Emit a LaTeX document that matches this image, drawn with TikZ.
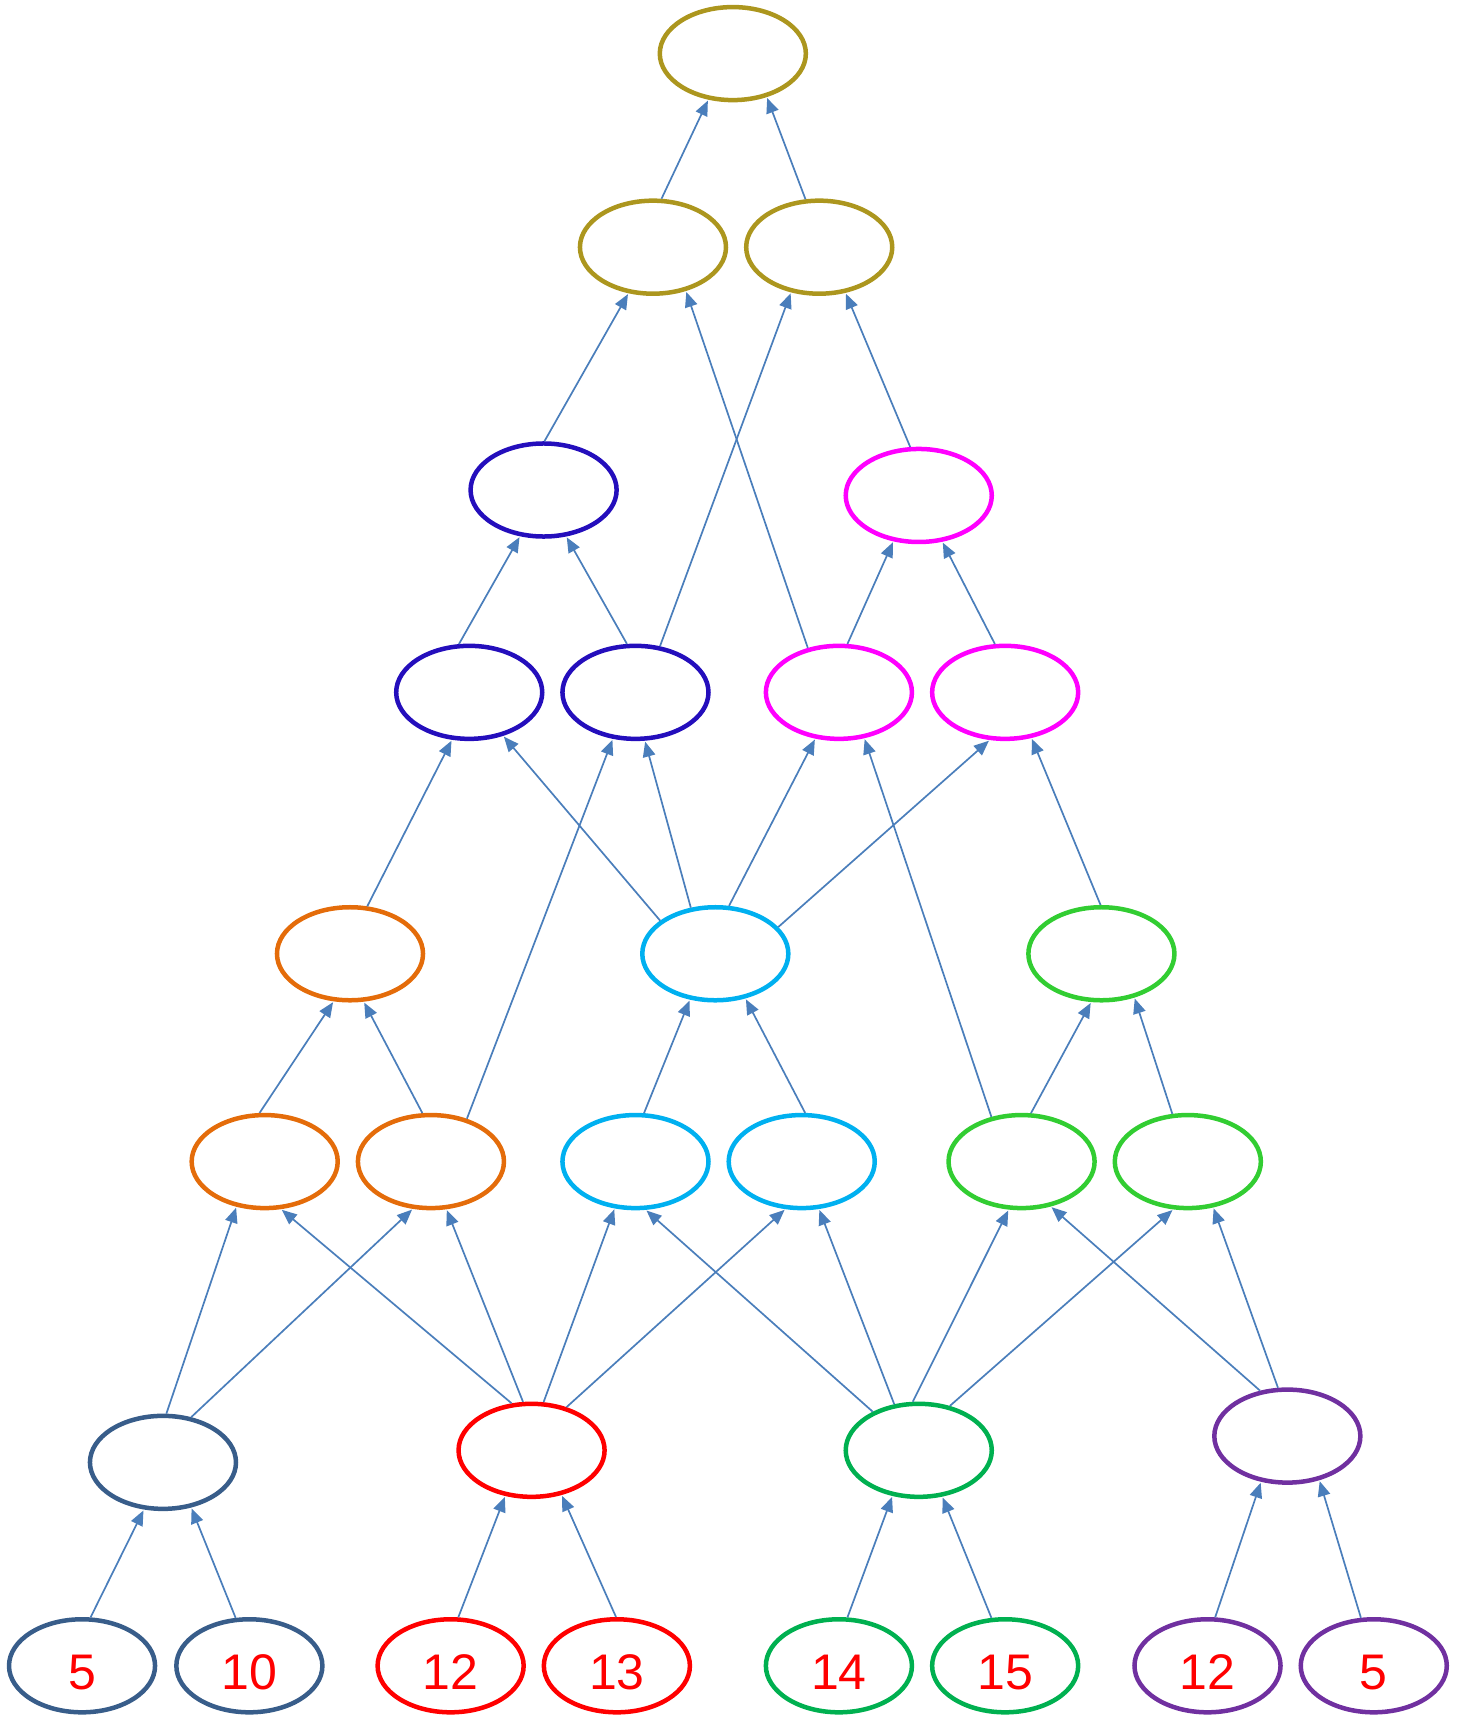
\documentclass[tikz,border=0pt]{standalone}
\usepackage{fontspec}
\newfontfamily\numfont{Liberation Sans}
\usetikzlibrary{shapes.geometric,arrows.meta}
\definecolor{cgold}{RGB}{172,150,30}
\definecolor{cind}{RGB}{36,14,188}
\definecolor{cmag}{RGB}{255,0,255}
\definecolor{corange}{RGB}{228,108,10}
\definecolor{ccyan}{RGB}{0,176,240}
\definecolor{clime}{RGB}{50,205,50}
\definecolor{cnavy}{RGB}{56,93,138}
\definecolor{cred}{RGB}{255,0,0}
\definecolor{cdkgreen}{RGB}{0,176,80}
\definecolor{cpurple}{RGB}{112,48,160}
\definecolor{carrow}{RGB}{74,126,187}
\tikzset{
  nd/.style={ellipse,draw=#1,line width=4.5pt,minimum width=146pt,minimum height=93pt,inner sep=0pt,
    font=\numfont\fontsize{50}{60}\selectfont,text=cred,text height=47pt,text depth=0pt},
  arr/.style={draw=carrow,line width=1.7pt,-{Triangle[length=15pt,width=12.5pt]},shorten >=1pt}
}
\begin{document}
\begin{tikzpicture}[x=1.0934pt,y=-1.0934pt]
\useasboundingbox (0,0) rectangle (1339,1568);
\node[nd=cgold] (r) at (670,49) {};
\node[nd=cgold] (a1) at (597,226) {};
\node[nd=cgold] (a2) at (749,226) {};
\node[nd=cind] (b1) at (497,448) {};
\node[nd=cmag] (b2) at (840,453) {};
\node[nd=cind] (c1) at (429,633) {};
\node[nd=cind] (c2) at (581,633) {};
\node[nd=cmag] (c3) at (767,633) {};
\node[nd=cmag] (c4) at (919,633) {};
\node[nd=corange] (d1) at (320,872) {};
\node[nd=ccyan] (d2) at (654,872) {};
\node[nd=clime] (d3) at (1007,872) {};
\node[nd=corange] (e1) at (242,1062) {};
\node[nd=corange] (e2) at (394,1062) {};
\node[nd=ccyan] (e3) at (581,1062) {};
\node[nd=ccyan] (e4) at (733,1062) {};
\node[nd=clime] (e5) at (934,1062) {};
\node[nd=clime] (e6) at (1086,1062) {};
\node[nd=cnavy] (f1) at (149,1337) {};
\node[nd=cred] (f2) at (486,1326) {};
\node[nd=cdkgreen] (f3) at (840,1326) {};
\node[nd=cpurple] (f4) at (1177,1313) {};
\node[nd=cnavy] (g1) at (75,1523) {5};
\node[nd=cnavy] (g2) at (228,1523) {10};
\node[nd=cred] (g3) at (412,1523) {12};
\node[nd=cred] (g4) at (564,1523) {13};
\node[nd=cdkgreen] (g5) at (767,1523) {14};
\node[nd=cdkgreen] (g6) at (919,1523) {15};
\node[nd=cpurple] (g7) at (1104,1523) {12};
\node[nd=cpurple] (g8) at (1256,1523) {5};
\draw[arr] (a1.80) -- (r.242);
\draw[arr] (a2.106) -- (r.-52);
\draw[arr] (b1.89) -- (a1.242);
\draw[arr] (c3.125) -- (a1.-53);
\draw[arr] (c2.62) -- (a2.238);
\draw[arr] (b2.100) -- (a2.-60);
\draw[arr] (c1.102) -- (b1.243);
\draw[arr] (c2.100) -- (b1.-64);
\draw[arr] (c3.80) -- (b2.241);
\draw[arr] (c4.102) -- (b2.-63);
\draw[arr] (d1.70) -- (c1.250);
\draw[arr] (d2.149) -- (c1.-52);
\draw[arr] (e2.50) -- (c2.244);
\draw[arr] (d2.118) -- (c2.-79);
\draw[arr] (d2.74) -- (c3.243);
\draw[arr] (e5.124) -- (c3.-61);
\draw[arr] (d2.23) -- (c4.252);
\draw[arr] (d3.91) -- (c4.-60);
\draw[arr] (e1.96) -- (d1.251);
\draw[arr] (e2.100) -- (d1.-74);
\draw[arr] (e3.80) -- (d2.241);
\draw[arr] (e4.86) -- (d2.-56);
\draw[arr] (e5.79) -- (d3.258);
\draw[arr] (e6.108) -- (d3.-53);
\draw[arr] (f1.86) -- (e1.238);
\draw[arr] (f2.113) -- (e1.-71);
\draw[arr] (f1.58) -- (e2.249);
\draw[arr] (f2.100) -- (e2.-72);
\draw[arr] (f2.76) -- (e3.246);
\draw[arr] (f3.140) -- (e3.-78);
\draw[arr] (f2.51) -- (e4.251);
\draw[arr] (f3.118) -- (e4.-70);
\draw[arr] (f3.97) -- (e5.255);
\draw[arr] (f4.121) -- (e5.-57);
\draw[arr] (f3.55) -- (e6.253);
\draw[arr] (f4.101) -- (e6.-61);
\draw[arr] (g1.80) -- (f1.248);
\draw[arr] (g2.106) -- (f1.-58);
\draw[arr] (g3.81) -- (f2.240);
\draw[arr] (g4.91) -- (f2.-56);
\draw[arr] (g5.80) -- (f3.240);
\draw[arr] (g6.106) -- (f3.-63);
\draw[arr] (g7.81) -- (f4.240);
\draw[arr] (g8.105) -- (f4.-54);
\end{tikzpicture}
\end{document}
